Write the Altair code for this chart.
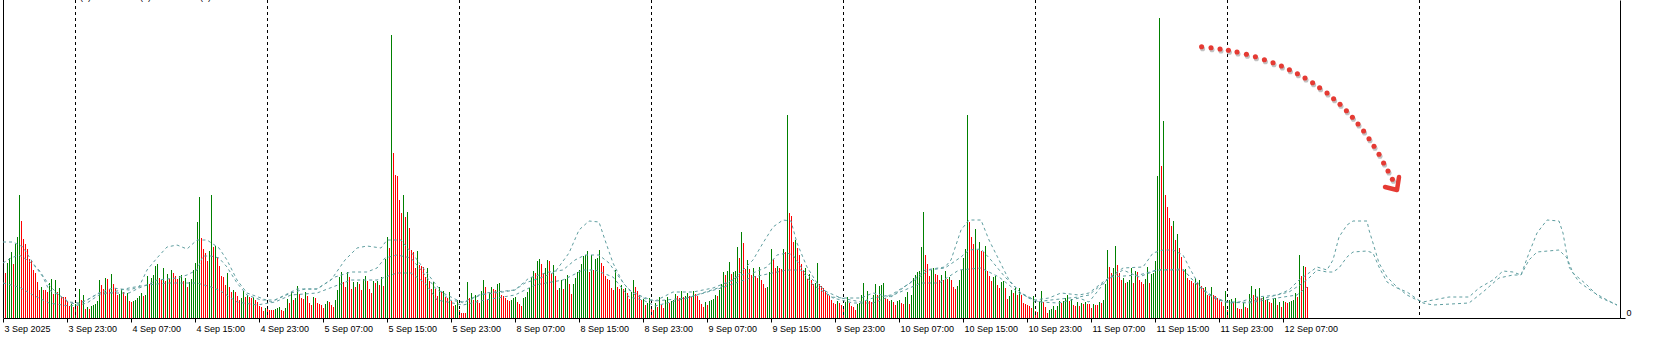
import altair as alt
import pandas as pd

# ---------------- data (M15 tick volumes, one value per bar) ----------------
vol_3sep = [45, 55, 60, 66, 54, 74, 81, 123, 97, 79, 74, 69, 59, 58, 48, 45, 36, 28, 31, 28,
            28, 26, 35, 39, 24, 38, 26, 30, 21, 21, 21, 17, 12, 14, 11]
vol_4sep = [14, 12, 29, 18, 23, 9, 11, 9, 12, 13, 14, 17, 38, 33, 29, 40, 39, 29, 44, 34,
            30, 23, 24, 29, 26, 22, 25, 17, 16, 17, 18, 20, 22, 25, 22, 23, 42, 34, 40, 43,
            52, 54, 40, 38, 50, 37, 44, 39, 48, 45, 42, 39, 42, 43, 37, 40, 31, 36, 39, 48,
            55, 96, 121, 80, 69, 65, 57, 67, 123, 71, 72, 61, 52, 42, 41, 33, 45, 31, 26, 28,
            26, 22, 18, 20, 27, 21, 23, 21, 20, 21, 18, 16, 12, 11, 7, 10]
vol_5sep = [9, 8, 8, 8, 9, 10, 11, 8, 7, 10, 19, 15, 26, 18, 20, 32, 24, 20, 19, 26,
            22, 15, 13, 21, 20, 15, 14, 13, 10, 14, 17, 16, 13, 11, 18, 28, 41, 46, 36, 31,
            46, 41, 29, 36, 31, 36, 34, 28, 39, 42, 37, 29, 25, 37, 35, 37, 33, 41, 32, 59,
            81, 70, 283, 165, 143, 142, 118, 105, 123, 101, 106, 90, 68, 66, 50, 67, 53, 52, 51, 41,
            50, 37, 29, 36, 29, 22, 31, 26, 27, 21, 20, 26, 17, 12, 13, 18]
vol_8sep = [8, 5, 5, 5, 36, 20, 25, 18, 23, 18, 15, 27, 38, 31, 18, 25, 31, 29, 28, 34,
            35, 23, 22, 20, 18, 17, 18, 20, 21, 16, 14, 12, 20, 21, 26, 30, 41, 47, 45, 57,
            59, 54, 45, 50, 58, 57, 45, 53, 42, 28, 30, 38, 29, 39, 43, 34, 24, 34, 40, 46,
            48, 54, 62, 63, 67, 46, 63, 48, 59, 60, 68, 55, 52, 42, 39, 38, 30, 28, 48, 31,
            29, 33, 29, 30, 25, 19, 26, 38, 31, 27, 23, 18, 19, 13, 15, 20]
vol_9sep = [10, 8, 15, 11, 21, 13, 10, 18, 21, 15, 17, 18, 24, 22, 20, 27, 21, 22, 25, 22,
            21, 27, 24, 22, 18, 14, 11, 16, 13, 17, 18, 19, 23, 22, 28, 34, 46, 43, 47, 56,
            44, 46, 47, 71, 60, 86, 75, 49, 58, 49, 43, 50, 42, 40, 51, 38, 34, 30, 31, 46,
            69, 59, 50, 52, 50, 49, 69, 66, 203, 105, 102, 76, 78, 70, 63, 54, 48, 50, 39, 44,
            38, 34, 35, 55, 34, 32, 30, 27, 24, 22, 18, 15, 14, 17, 15, 13]
vol_10sep = [12, 16, 21, 15, 12, 11, 8, 14, 15, 23, 35, 18, 27, 17, 16, 23, 34, 23, 32, 33,
             35, 20, 19, 17, 18, 16, 13, 17, 18, 15, 14, 21, 26, 14, 23, 40, 43, 46, 47, 71,
             106, 63, 54, 42, 48, 50, 44, 43, 38, 43, 38, 47, 39, 41, 38, 31, 29, 32, 38, 48,
             60, 69, 203, 96, 81, 74, 89, 68, 76, 67, 66, 72, 47, 42, 37, 41, 42, 33, 30, 36,
             37, 30, 19, 22, 28, 25, 30, 23, 30, 23, 15, 14, 13, 12, 10, 22]
vol_11sep = [7, 6, 16, 27, 16, 11, 5, 8, 9, 12, 8, 12, 17, 15, 17, 20, 23, 17, 19, 13,
             12, 16, 12, 15, 14, 16, 14, 14, 10, 14, 13, 13, 16, 15, 18, 34, 68, 51, 45, 50,
             72, 53, 45, 38, 40, 35, 36, 38, 50, 35, 47, 46, 38, 36, 34, 39, 51, 35, 44, 45,
             57, 142, 300, 152, 197, 123, 111, 100, 92, 97, 78, 84, 70, 61, 48, 49, 40, 38, 37, 35,
             40, 35, 38, 32, 30, 31, 23, 22, 31, 23, 22, 20, 18, 16, 12, 27]
vol_12sep = [8, 18, 19, 16, 20, 10, 9, 9, 15, 11, 10, 24, 32, 23, 29, 21, 30, 20, 21, 18,
             19, 16, 15, 19, 20, 13, 16, 11, 17, 16, 15, 16, 17, 18, 25, 21, 63, 42, 52, 51, 31]

vols = vol_3sep + vol_4sep + vol_5sep + vol_8sep + vol_9sep + vol_10sep + vol_11sep + vol_12sep

# time axis: one label every 8 hours (32 bars)
tick_idx = [-1, 31, 63, 95, 127, 159, 191, 223, 255, 287, 319, 351, 383, 415, 447, 479, 511,
            543, 575, 607, 639]
tick_labels = ["3 Sep 2025", "3 Sep 23:00", "4 Sep 07:00", "4 Sep 15:00", "4 Sep 23:00",
               "5 Sep 07:00", "5 Sep 15:00", "5 Sep 23:00", "8 Sep 07:00", "8 Sep 15:00",
               "8 Sep 23:00", "9 Sep 07:00", "9 Sep 15:00", "9 Sep 23:00", "10 Sep 07:00",
               "10 Sep 15:00", "10 Sep 23:00", "11 Sep 07:00", "11 Sep 15:00", "11 Sep 23:00",
               "12 Sep 07:00"]

# day separators (00:00 of each day)
day_sep_idx = [35, 131, 227, 323, 419, 515, 611, 707]

# cut-off indicator captions at the very top (only the bottoms of the brackets show)
caption_idx = [37.5, 67.5, 97.5]
caption_txt = ["(5)", "(5)", "(5)"]

# three dashed profile lines (bar index, value)
upper_idx = [-1, 4, 9, 14, 19, 22, 27, 32, 37, 41, 47, 54, 62, 67, 71, 76, 81, 86, 91, 96, 101, 107,
             111, 116, 121, 128, 133, 140, 146, 156, 163, 170, 176, 181, 188, 191, 198, 205, 211, 216,
             222, 229, 237, 249, 255, 260, 269, 275, 282, 287, 292, 297, 300, 304, 309, 315, 322, 325,
             334, 344, 354, 364, 374, 379, 384, 389, 393, 396, 401, 406, 413, 419, 428, 434, 443, 453,
             460, 470, 473, 478, 482, 488, 492, 497, 502, 508, 515, 522, 528, 537, 542, 549, 559, 569,
             574, 579, 584, 589, 592, 597, 604, 611, 617, 626, 636, 642, 647, 652, 656, 661, 664, 667,
             671, 674, 681, 682, 684, 687, 691, 696, 701, 706, 709, 714, 722, 732, 737, 744, 749, 754,
             758, 762, 766, 771, 777, 779, 782, 787, 794, 801, 806]
upper_val = [76, 76, 71, 55, 41, 28, 23, 16, 15, 18, 25, 30, 28, 31, 48, 60, 71, 73, 69, 78, 78, 70,
             58, 38, 25, 20, 16, 23, 29, 29, 38, 58, 70, 72, 70, 78, 78, 61, 45, 32,
             18, 16, 23, 26, 28, 35, 41, 46, 65, 88, 97, 96, 78, 55, 35, 23, 18, 17,
             26, 26, 30, 38, 58, 75, 91, 98, 97, 75, 51, 35, 21, 20, 20, 25, 21, 36,
             48, 51, 58, 88, 98, 98, 78, 58, 38, 25, 18, 20, 25, 23, 25, 36, 50, 51,
             65, 68, 68, 63, 51, 33, 20, 16, 16, 21, 23, 28, 38, 45, 51, 48, 58, 81,
             93, 97, 97, 88, 75, 55, 41, 31, 23, 18, 16, 18, 21, 21, 30, 38, 47, 46,
             43, 65, 85, 98, 97, 85, 51, 36, 26, 18, 13]
middle_idx = [-1, 3, 7, 12, 17, 22, 27, 32, 37, 41, 47, 54, 62, 67, 71, 76, 81, 86, 91, 96, 99, 103,
              107, 111, 116, 121, 128, 135, 143, 150, 156, 165, 173, 181, 186, 190, 196, 203, 208, 216,
              229, 240, 255, 262, 272, 279, 285, 290, 297, 302, 307, 312, 319, 325, 341, 358, 368, 374,
              381, 386, 391, 394, 399, 404, 411, 418, 428, 434, 443, 455, 462, 470, 478, 482, 488, 493,
              500, 508, 515, 523, 537, 542, 551, 559, 567, 576, 589, 596, 602, 612, 622, 632, 642, 649,
              652, 656, 661, 664, 667, 671, 674, 681, 684, 687, 691, 696, 701, 706, 709, 714, 732, 739,
              747, 754, 758, 762, 766, 777, 781, 784, 791, 797, 806]
middle_val = [55, 60, 63, 57, 48, 33, 23, 15, 14, 18, 25, 25, 25, 30, 33, 38, 39, 40, 43, 48, 62, 62,
              60, 51, 35, 23, 18, 18, 25, 29, 29, 41, 46, 46, 50, 60, 63, 60, 48, 28,
              15, 25, 28, 40, 46, 48, 58, 63, 63, 55, 41, 28, 21, 17, 20, 31, 43, 45,
              51, 63, 65, 63, 48, 38, 26, 20, 16, 20, 23, 38, 48, 50, 61, 68, 69, 58,
              41, 25, 16, 18, 21, 23, 38, 48, 41, 48, 49, 33, 23, 15, 16, 21, 26, 35,
              40, 48, 46, 46, 50, 61, 66, 67, 65, 51, 36, 30, 26, 19, 15, 13, 15, 26,
              40, 43, 43, 58, 66, 68, 60, 45, 33, 21, 13]
lower_idx = [-1, 7, 14, 22, 32, 37, 41, 47, 54, 62, 71, 81, 91, 96, 103, 107, 116, 126, 135, 143,
             156, 173, 186, 196, 203, 210, 216, 229, 240, 255, 265, 279, 289, 295, 304, 312, 319, 325,
             341, 358, 374, 391, 398, 404, 414, 424, 434, 443, 458, 467, 477, 488, 497, 507, 517, 527,
             537, 542, 552, 567, 576, 589, 599, 609, 622, 636, 646, 651]
lower_val = [35, 31, 23, 15, 12, 13, 15, 23, 26, 30, 33, 35, 35, 35, 31, 28, 16, 13, 16, 23,
             25, 38, 38, 45, 45, 35, 18, 13, 18, 23, 33, 38, 48, 48, 41, 21, 18, 12,
             20, 30, 41, 48, 48, 33, 20, 15, 15, 22, 35, 35, 48, 50, 41, 25, 16, 15,
             20, 16, 41, 43, 48, 48, 28, 16, 15, 20, 23, 31]

# dotted red arrow drawn on the chart (bar index, value)
arrow_dot_idx = [598.3, 603, 607.5, 611.7, 616, 620.7, 625.2, 629.7, 634, 638.2, 642.2, 646.2, 650,
                 653.8, 657.3, 661, 664.3, 667.5, 670.7, 673.7, 676.5, 679.3, 682, 684.5, 687, 689.3,
                 691.5, 693.7]
arrow_dot_val = [271.3, 270.3, 269, 267.7, 266, 263.7, 261.3, 258.3, 255.3, 252, 248.3, 244.3, 240,
                 235.3, 230.3, 225, 219.3, 213.7, 207.3, 200.7, 194, 187, 179.3, 171.7, 163.7, 155,
                 147, 138.7]
arrow_head_idx = [690, 696, 697]
arrow_head_val = [131, 128, 141]

# ---------------- chart ----------------
W, H = 1617, 318
xs = alt.Scale(domain=[-1, 807.5], nice=False, zero=False, padding=0)
ys = alt.Scale(domain=[0, 318], nice=False, zero=True, padding=0)
FONT = "Liberation Sans"

n = len(vols)
bars_df = pd.DataFrame({"i": list(range(n)), "v": vols})
bars_df["dir"] = ["down"] + ["up" if vols[k] > vols[k - 1] else "down" for k in range(1, n)]

label_expr = "[" + ",".join("'%s'" % t for t in tick_labels) + "][(datum.value + 1) / 32]"

bars = alt.Chart(bars_df).mark_rule(strokeWidth=1, opacity=1, xOffset=0.5).encode(
    x=alt.X("i:Q", scale=xs, title=None,
            axis=alt.Axis(values=tick_idx, labelExpr=label_expr, grid=False,
                          domainColor="black", tickColor="black", tickSize=4,
                          labelColor="black", labelFont=FONT, labelFontSize=9,
                          labelAlign="left", labelBaseline="alphabetic", labelPadding=9,
                          labelOffset=1, labelFlush=False, labelOverlap=False)),
    y=alt.Y("v:Q", scale=ys, title=None,
            axis=alt.Axis(orient="right", values=[0], grid=False, domainColor="black",
                          tickColor="black", tickSize=5, labelColor="black", labelFont=FONT,
                          labelFontSize=9, labelPadding=1, labelBaseline="alphabetic",
                          labelOffset=-3, labelFlush=False)),
    y2=alt.datum(0),
    color=alt.Color("dir:N", scale=alt.Scale(domain=["up", "down"], range=["#008000", "#FF0000"]),
                    legend=None),
)

sep_df = pd.DataFrame({"i": day_sep_idx})
seps = alt.Chart(sep_df).mark_rule(color="black", strokeWidth=1, strokeDash=[3, 3], xOffset=0.5).encode(
    x=alt.X("i:Q", scale=xs),
    y=alt.value(0), y2=alt.value(H),
)

left_border = alt.Chart(pd.DataFrame({"a": [0]})).mark_rule(color="black", strokeWidth=1).encode(
    x=alt.value(0.5), y=alt.value(0), y2=alt.value(H))

cap_df = pd.DataFrame({"i": caption_idx, "t": caption_txt})
captions = alt.Chart(cap_df).mark_text(font=FONT, fontSize=9, color="black", align="left",
                                       baseline="alphabetic").encode(
    x=alt.X("i:Q", scale=xs), y=alt.value(-0.5), text="t:N")

lines_df = pd.concat([
    pd.DataFrame({"i": upper_idx, "v": upper_val, "s": "upper"}),
    pd.DataFrame({"i": middle_idx, "v": middle_val, "s": "middle"}),
    pd.DataFrame({"i": lower_idx, "v": lower_val, "s": "lower"}),
])
lines = alt.Chart(lines_df).mark_line(color="#5F9EA0", strokeWidth=1, strokeDash=[3, 3]).encode(
    x=alt.X("i:Q", scale=xs), y=alt.Y("v:Q", scale=ys), detail="s:N")

dots_df = pd.DataFrame({"i": arrow_dot_idx, "v": arrow_dot_val})
dot_shadow = alt.Chart(dots_df).mark_circle(color="#9a9a9a", opacity=0.6, size=26, xOffset=1, yOffset=2).encode(
    x=alt.X("i:Q", scale=xs), y=alt.Y("v:Q", scale=ys))
dots = alt.Chart(dots_df).mark_circle(color="#E53A33", opacity=1, size=26).encode(
    x=alt.X("i:Q", scale=xs), y=alt.Y("v:Q", scale=ys))
head_df = pd.DataFrame({"i": arrow_head_idx, "v": arrow_head_val, "o": [0, 1, 2]})
head = alt.Chart(head_df).mark_line(color="#E53A33", strokeWidth=4.5, strokeCap="round",
                                    strokeJoin="round").encode(
    x=alt.X("i:Q", scale=xs), y=alt.Y("v:Q", scale=ys), order="o:Q")

chart = alt.layer(bars, seps, left_border, captions, lines, dot_shadow, dots, head).properties(
    width=W, height=H,
    padding={"left": 3, "top": 0, "right": 53, "bottom": 21},
    autosize=alt.AutoSizeParams(type="none"),
    background="white",
).configure_view(stroke=None)

chart.save("out.html", embed_options={"renderer": "svg", "actions": False})
